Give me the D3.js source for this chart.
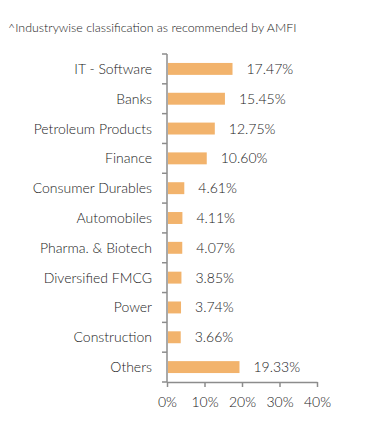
<!DOCTYPE html>
<html><head><meta charset="utf-8">
<script src="https://cdn.jsdelivr.net/npm/d3@7"></script>
<style>body{margin:0;background:#fff;}svg{display:block;font-family:Lato,sans-serif;font-weight:300;}</style>
</head><body>
<svg id="c" width="391" height="439"></svg>
<script>
const title = "^Industrywise classification as recommended by AMFI";
const categories = ["IT - Software","Banks","Petroleum Products","Finance","Consumer Durables","Automobiles","Pharma. & Biotech","Diversified FMCG","Power","Construction","Others"];
const values = [17.47,15.45,12.75,10.60,4.61,4.11,4.07,3.85,3.74,3.66,19.33];
const xTicks = [0,10,20,30,40];

const svg = d3.select("#c");
const x = d3.scaleLinear().domain([0,40]).range([167,317]);
const y = d3.scaleBand().domain(categories).range([54,382]).paddingInner(0.6).paddingOuter(0.3);
const yStep = d3.scaleBand().domain(categories).range([54,382]);

svg.append("text").attr("x",8).attr("y",32).attr("font-size",12.4).attr("fill","#1a1a1a").text(title);

svg.selectAll("rect.bar").data(values).join("rect")
  .attr("x",x(0)+1).attr("y",(d,i)=>y(categories[i]))
  .attr("width",d=>x(d)-x(0)-1).attr("height",y.bandwidth())
  .attr("fill","#F2B36C");

svg.selectAll("text.val").data(values).join("text")
  .attr("x",d=>x(d)+14).attr("y",(d,i)=>y(categories[i])+y.bandwidth()/2)
  .attr("dy","0.36em").attr("font-size",14).attr("fill","#1a1a1a")
  .text(d=>d.toFixed(2)+"%");

// y axis: line + ticks at band boundaries
const ax = svg.append("g").attr("stroke","#8c8c8c").attr("stroke-width",1.5);
ax.append("line").attr("x1",x(0)).attr("x2",x(0)).attr("y1",54).attr("y2",382);
const bounds = categories.map(c=>yStep(c)).concat([382]);
ax.selectAll("line.t").data(bounds).join("line")
  .attr("x1",x(0)-5).attr("x2",x(0)).attr("y1",d=>d).attr("y2",d=>d);
svg.selectAll("text.cat").data(categories).join("text")
  .attr("x",152).attr("y",d=>yStep(d)+yStep.bandwidth()/2).attr("dy","0.36em")
  .attr("text-anchor","end").attr("font-size",14).attr("fill","#1a1a1a").text(d=>d);

// x axis
const xa = svg.append("g").attr("transform","translate(0,382)")
  .call(d3.axisBottom(x).tickValues(xTicks).tickSize(5).tickSizeOuter(0).tickFormat(d=>d+"%"));
xa.select(".domain").attr("stroke","#8c8c8c").attr("stroke-width",1.5);
xa.selectAll(".tick line").attr("stroke","#8c8c8c").attr("stroke-width",1.5);
xa.selectAll(".tick text").attr("font-family","Lato,sans-serif").attr("font-weight",300).attr("font-size",14).attr("fill","#1a1a1a").attr("y",15);
</script>
</body></html>
